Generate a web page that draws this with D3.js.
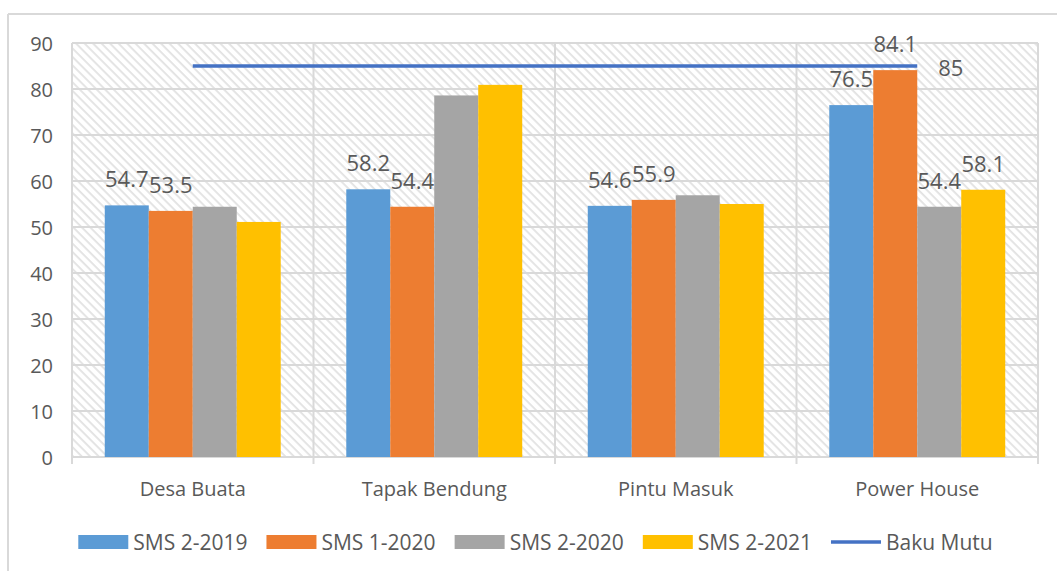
<!DOCTYPE html>
<html>
<head>
<meta charset="utf-8">
<script src="https://cdn.jsdelivr.net/npm/d3@7"></script>
<style>
  html, body { margin: 0; padding: 0; background: #fff; }
  svg { display: block; }
  text { font-family: "Open Sans", "Liberation Sans", sans-serif; fill: #595959; }
</style>
</head>
<body>
<svg id="chart" width="1057" height="571"></svg>
<script>
// Sampling locations
const categories = ["Desa Buata", "Tapak Bendung", "Pintu Masuk", "Power House"];
// Measurement periods (bar series)
const seriesNames = ["SMS 2-2019", "SMS 1-2020", "SMS 2-2020", "SMS 2-2021"];
const seriesColors = ["#5B9BD5", "#ED7D31", "#A5A5A5", "#FFC000"];
const sms2019 = [54.7, 58.2, 54.6, 76.5];
const sms12020 = [53.5, 54.4, 55.9, 84.1];
const sms22020 = [54.4, 78.6, 56.9, 54.4];
const sms2021 = [51.1, 80.9, 55.0, 58.1];
// Which bars carry a value label
const labelled = [
  [true, true, true, true],
  [true, true, true, true],
  [false, false, false, true],
  [false, false, false, true]
];
// Quality standard line
const bakuMutuName = "Baku Mutu";
const bakuMutu = [85, 85, 85, 85];
const yTicks = [0, 10, 20, 30, 40, 50, 60, 70, 80, 90];

const seriesValues = [sms2019, sms12020, sms22020, sms2021];

const svg = d3.select("#chart");
const plot = { left: 72, top: 43, right: 1038, bottom: 457 };

const x = d3.scaleBand().domain(categories).range([plot.left, plot.right]).paddingInner(0).paddingOuter(0);
const xInner = d3.scaleBand().domain(d3.range(seriesNames.length))
  .range([0, x.bandwidth()]).paddingOuter(0.745).paddingInner(0);
const y = d3.scaleLinear().domain([0, 90]).range([plot.bottom, plot.top]);

// Outer chart frame (top and left edges visible)
svg.append("line").attr("x1", 8).attr("x2", 1057).attr("y1", 14).attr("y2", 14)
  .attr("stroke", "#d9d9d9").attr("stroke-width", 2);
svg.append("line").attr("x1", 8).attr("x2", 8).attr("y1", 14).attr("y2", 571)
  .attr("stroke", "#d9d9d9").attr("stroke-width", 2);

// Diagonal hatch fill for the plot area
const defs = svg.append("defs");
const pat = defs.append("pattern").attr("id", "hatch")
  .attr("patternUnits", "userSpaceOnUse").attr("width", 6).attr("height", 6)
  .attr("patternTransform", "rotate(45)");
pat.append("rect").attr("width", 6).attr("height", 6).attr("fill", "#fff");
pat.append("rect").attr("x", 0).attr("y", 0).attr("width", 6).attr("height", 1.8).attr("fill", "#e2e2e2");

svg.append("rect")
  .attr("x", plot.left).attr("y", plot.top)
  .attr("width", plot.right - plot.left).attr("height", plot.bottom - plot.top)
  .attr("fill", "url(#hatch)");

// Horizontal gridlines
svg.append("g").selectAll("line").data(yTicks).join("line")
  .attr("x1", plot.left).attr("x2", plot.right)
  .attr("y1", d => y(d)).attr("y2", d => y(d))
  .attr("stroke", "#d9d9d9").attr("stroke-width", 2);

// Vertical category separators (extend below axis as tick marks)
const bounds = categories.map(c => x(c)).concat([plot.right]);
svg.append("g").selectAll("line").data(bounds).join("line")
  .attr("x1", d => d).attr("x2", d => d)
  .attr("y1", plot.top).attr("y2", plot.bottom + 7)
  .attr("stroke", "#d9d9d9").attr("stroke-width", 2);

// Y axis labels
svg.append("g").selectAll("text").data(yTicks).join("text")
  .attr("x", 53).attr("y", d => y(d))
  .attr("text-anchor", "end").attr("dominant-baseline", "central")
  .attr("font-size", 20).text(d => d);

// Bars
const barData = [];
categories.forEach((c, ci) => {
  seriesValues.forEach((vals, si) => {
    barData.push({ c, ci, si, v: vals[ci] });
  });
});

svg.append("g").selectAll("rect").data(barData).join("rect")
  .attr("x", d => x(d.c) + xInner(d.si))
  .attr("y", d => y(d.v))
  .attr("width", xInner.bandwidth())
  .attr("height", d => y(0) - y(d.v))
  .attr("fill", d => seriesColors[d.si]);

// Value labels
svg.append("g").selectAll("text").data(barData.filter(d => labelled[d.si][d.ci])).join("text")
  .attr("x", d => x(d.c) + xInner(d.si) + xInner.bandwidth() / 2)
  .attr("y", d => y(d.v) - 18)
  .attr("text-anchor", "middle").attr("font-size", 22)
  .text(d => d.v.toFixed(1));

// Baku Mutu line
const line = d3.line().x((d, i) => x(categories[i]) + x.bandwidth() / 2).y(d => y(d));
svg.append("path").datum(bakuMutu).attr("d", line)
  .attr("fill", "none").attr("stroke", "#4472C4").attr("stroke-width", 3.5);
svg.append("text")
  .attr("x", x(categories[3]) + x.bandwidth() / 2 + 21)
  .attr("y", y(bakuMutu[3]) + 1)
  .attr("dominant-baseline", "central").attr("font-size", 22)
  .text(bakuMutu[3]);

// Category labels
svg.append("g").selectAll("text").data(categories).join("text")
  .attr("x", d => x(d) + x.bandwidth() / 2)
  .attr("y", 496)
  .attr("text-anchor", "middle").attr("font-size", 20)
  .text(d => d);

// Legend
const legendItems = seriesNames.map((n, i) => ({ name: n, color: seriesColors[i], type: "bar" }))
  .concat([{ name: bakuMutuName, color: "#4472C4", type: "line" }]);
const lg = svg.append("g");
const items = lg.selectAll("g").data(legendItems).join("g");
items.append("text").attr("x", 55).attr("y", 542)
  .attr("dominant-baseline", "central").attr("font-size", 21)
  .text(d => d.name);
let cursor = 0;
const widths = [];
items.each(function (d) {
  const w = 55 + this.querySelector("text").getComputedTextLength();
  widths.push(w);
});
const gap = 19;
const total = d3.sum(widths) + gap * (widths.length - 1);
cursor = 535.5 - total / 2;
items.each(function (d, i) {
  d3.select(this).attr("transform", `translate(${cursor},0)`);
  cursor += widths[i] + gap;
});
items.filter(d => d.type === "bar").append("rect")
  .attr("x", 0).attr("y", 535).attr("width", 50).attr("height", 14)
  .attr("fill", d => d.color);
items.filter(d => d.type === "line").append("line")
  .attr("x1", 0).attr("x2", 50).attr("y1", 542).attr("y2", 542)
  .attr("stroke", d => d.color).attr("stroke-width", 3.5);
</script>
</body>
</html>
